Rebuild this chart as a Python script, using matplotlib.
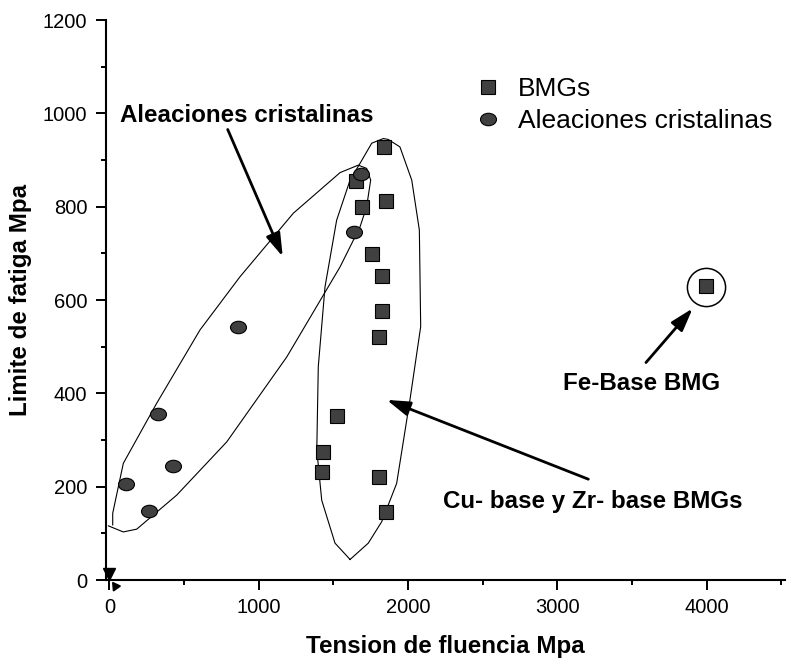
import numpy as np
import matplotlib
matplotlib.use("Agg")
import matplotlib.pyplot as plt
import matplotlib.transforms as mtrans
from matplotlib.path import Path

plt.rcParams.update({
    "font.family": ["Liberation Sans", "DejaVu Sans"],
    "font.size": 15,
})

# data (yield stress vs fatigue limit, MPa)
bmg_x = [1839, 1650, 1692, 1851, 1761, 1828, 1828, 1806, 1527, 1433, 1424, 1804, 1851, 3994]
bmg_y = [927, 856, 799, 813, 698, 652, 577, 520, 352, 274, 231, 220, 145, 631]
cris_x = [1683, 1638, 861, 326, 426, 111, 265]
cris_y = [870, 745, 542, 355, 244, 205, 148]

# hand drawn envelopes around the groups
cris_env_x = [-7, 93, 183, 451, 786, 1188, 1545, 1679, 1723, 1750, 1723, 1667, 1545,
              1232, 875, 607, 317, 93, 22, 22]
cris_env_y = [116, 103, 109, 182, 296, 478, 671, 757, 800, 857, 882, 889, 873,
              786, 650, 536, 379, 250, 143, 118]
bmg_env_x = [1612, 1734, 1824, 1924, 2013, 2085, 2076, 2025, 1946, 1868, 1835, 1757,
             1679, 1612, 1522, 1444, 1399, 1389, 1422, 1511, 1612]
bmg_env_y = [44, 79, 125, 207, 386, 543, 750, 857, 928, 944, 946, 936,
             893, 857, 771, 628, 457, 279, 171, 79, 44]

fig = plt.figure(figsize=(7.87, 6.58), dpi=100)
ax = fig.add_axes([0.1343, 0.11854, 0.8631, 0.85106])

ell = Path.unit_circle().transformed(mtrans.Affine2D().scale(1, 0.78))

ax.plot(cris_env_x, cris_env_y, color="black", lw=0.8)
ax.plot(bmg_env_x, bmg_env_y, color="black", lw=0.8)

h1, = ax.plot(bmg_x, bmg_y, ls="none", marker="s", ms=9.8, mfc="#404040",
              mec="black", mew=0.8, label="BMGs")
h2, = ax.plot(cris_x, cris_y, ls="none", marker=ell, ms=11.5, mfc="#404040",
              mec="black", mew=0.8, label="Aleaciones cristalinas")

# circle around the Fe-based BMG
ax.plot(bmg_x[-1], bmg_y[-1] - 4, marker="o", ms=27.5, mfc="none", mec="black", mew=1.1)

arrow = dict(arrowstyle="-|>,head_length=0.7,head_width=0.22", lw=2.0,
             color="black", mutation_scale=20, shrinkA=0, shrinkB=0)
ax.annotate("Aleaciones cristalinas", xy=(1161, 693), xytext=(71, 996),
            fontsize=17.4, fontweight="bold", va="center", ha="left",
            arrowprops=dict(arrow, relpos=(0.42, 0.0)))
ax.annotate("", xy=(1857, 386), xytext=(3208, 216), arrowprops=arrow)
ax.text(2235, 169, "Cu- base y Zr- base BMGs", fontsize=17.4, fontweight="bold",
        va="center", ha="left")
ax.annotate("", xy=(3907, 582), xytext=(3594, 466), arrowprops=arrow)
ax.text(3040, 421, "Fe-Base BMG", fontsize=17.4, fontweight="bold",
        va="center", ha="left")

# small arrowheads near the origin
ax.plot(0, 12, marker="v", ms=8, color="black", clip_on=False)
ax.plot(40, -12, marker=(3, 0, 35), ms=7, color="black", clip_on=False)

ax.set_xlim(-25, 4525)
ax.set_ylim(0, 1200)
ax.set_xticks([0, 1000, 2000, 3000, 4000])
ax.set_xticks(np.arange(500, 4501, 1000), minor=True)
ax.set_yticks(np.arange(0, 1201, 200))
ax.set_yticks(np.arange(100, 1200, 200), minor=True)
for s in ["top", "right"]:
    ax.spines[s].set_visible(False)
for s in ["left", "bottom"]:
    ax.spines[s].set_linewidth(1.5)
ax.tick_params(which="major", direction="out", length=7.2, width=1.4,
               labelsize=14.5, pad=6)
ax.tick_params(which="minor", direction="out", length=3.6, width=1.4)

ax.set_xlabel("Tension de fluencia Mpa", fontsize=17.4, fontweight="bold", labelpad=13)
ax.set_ylabel("Limite de fatiga Mpa", fontsize=17.4, fontweight="bold", labelpad=8)

ax.legend(handles=[h1, h2], loc="upper left", bbox_to_anchor=(0.5315, 0.921),
          frameon=False, fontsize=19, handlelength=0.6, handletextpad=0.85,
          labelspacing=0.3, borderpad=0)

fig.savefig("out.png", dpi=100)
